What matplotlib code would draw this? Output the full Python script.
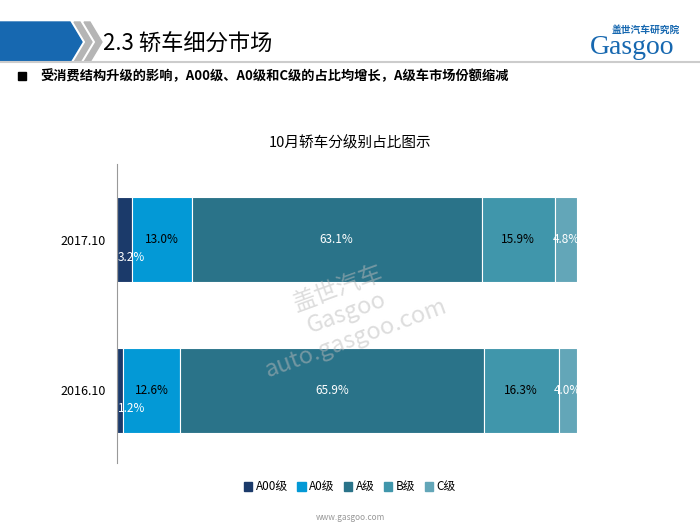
import matplotlib
matplotlib.use("Agg")
import matplotlib.pyplot as plt
from matplotlib import font_manager as fm
from matplotlib.patches import Polygon, Rectangle

cjk = [f.name for f in fm.fontManager.ttflist if "CJK" in f.name]
cjk_name = "Noto Sans CJK SC" if "Noto Sans CJK SC" in cjk else (cjk[0] if cjk else "DejaVu Sans")
plt.rcParams["font.family"] = [cjk_name, "DejaVu Sans"]

periods = ["2016.10", "2017.10"]
segments = ["A00级", "A0级", "A级", "B级", "C级"]
values = {
    "A00级": [1.2, 3.2],
    "A0级": [12.6, 13.0],
    "A级": [65.9, 63.1],
    "B级": [16.3, 15.9],
    "C级": [4.0, 4.8],
}
colors = ["#1b3a6a", "#0399d6", "#2a7389", "#4096ab", "#63a6b8"]
label_colors = ["white", "black", "white", "black", "white"]

fig = plt.figure(figsize=(7, 5.25), dpi=100)

hdr = fig.add_axes([0, 0, 1, 1]); hdr.set_xlim(0, 700); hdr.set_ylim(525, 0); hdr.axis("off")
hdr.add_patch(Polygon([[0, 22], [70, 22], [82, 42], [70, 62], [0, 62]], color="#1768b0"))
for dx in (74, 84):
    hdr.add_patch(Polygon([[dx, 22], [dx + 6, 22], [dx + 18, 42], [dx + 6, 62], [dx, 62], [dx + 12, 42]], color="#b5b5b5"))
hdr.plot([0, 700], [62, 62], color="#cccccc", lw=1.5)
hdr.text(103, 43, "2.3 轿车细分市场", fontsize=16, va="center", color="black")
hdr.text(612, 30, "盖世汽车研究院", fontsize=7, color="#1768b0", fontweight="bold", va="center")
hdr.text(590, 47, "Gasgoo", fontsize=20, color="#1768b0", va="center", family="Liberation Serif")
hdr.add_patch(Rectangle([18, 72], 8, 8, color="black"))
hdr.text(40, 76, "受消费结构升级的影响，A00级、A0级和C级的占比均增长，A级车市场份额缩减",
         fontsize=9.5, fontweight="bold", va="center")
hdr.text(350, 143, "10月轿车分级别占比图示", fontsize=10.5, ha="center", va="center")
hdr.text(350, 517, "www.gasgoo.com", fontsize=6, color="#999999", ha="center", va="center")

ax = fig.add_axes([117 / 700, 1 - 463 / 525, 460 / 700, 299 / 525])
ypos = [0, 1]
left = [0, 0]
for i, seg in enumerate(segments):
    v = values[seg]
    ax.barh(ypos, v, left=left, height=0.566, color=colors[i], edgecolor="white", linewidth=0.8)
    for j in range(2):
        if i == 0:
            ax.text(0.2, ypos[j] - 0.12, f"{v[j]:.1f}%", color="white",
                    ha="left", va="center", fontsize=8.5)
        else:
            ax.text(left[j] + v[j] / 2, ypos[j], f"{v[j]:.1f}%", color=label_colors[i],
                    ha="center", va="center", fontsize=8.5)
    left = [left[k] + v[k] for k in range(2)]

ax.text(0.5, 0.5, "盖世汽车\nGasgoo\nauto.gasgoo.com", transform=ax.transAxes, fontsize=17,
        color="#bbbbbb", ha="center", va="center", rotation=20, alpha=0.5, zorder=10)

ax.set_xlim(0, 100)
ax.set_ylim(-0.486, 1.506)
ax.set_yticks(ypos)
ax.set_yticklabels(periods, fontsize=9)
ax.set_xticks([])
for s in ("top", "right", "bottom"):
    ax.spines[s].set_visible(False)
ax.spines["left"].set_color("#999999")
ax.tick_params(axis="y", length=0, pad=8)

handles = [Rectangle((0, 0), 1, 1, color=c) for c in colors]
fig.legend(handles, segments, loc="center", bbox_to_anchor=(0.5, 1 - 487 / 525), ncol=5,
           frameon=False, fontsize=8.5, handlelength=0.7, handleheight=0.7, columnspacing=0.8, handletextpad=0.3)

fig.savefig("out.png", dpi=100)
